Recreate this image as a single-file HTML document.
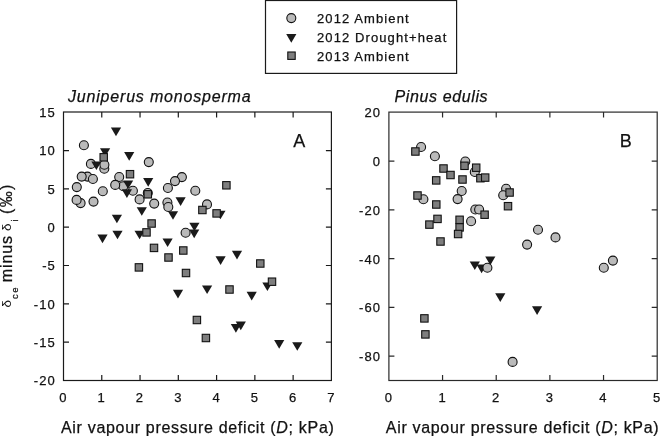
<!DOCTYPE html>
<html><head><meta charset="utf-8"><style>
html,body{margin:0;padding:0;background:#fff;}
body{width:660px;height:436px;overflow:hidden;position:relative;}
svg{position:absolute;left:0;top:0;display:block;will-change:transform;}
text{font-family:"Liberation Sans",sans-serif;stroke:#111;stroke-width:0.25px;}
.t13{font-size:13px;letter-spacing:1.1px;}
.t15{font-size:16px;}
.ti{letter-spacing:0.81px;}
.ti2{letter-spacing:0.62px;}
.xl{letter-spacing:0.68px;}
.yl{letter-spacing:1.3px;}
.sub{font-size:9.5px;}
.t18{font-size:18px;}
</style></head><body>
<svg width="660" height="436" viewBox="0 0 660 436">
<rect x="265.5" y="0.5" width="191.1" height="72.9" fill="none" stroke="#1a1a1a" stroke-width="1.2"/>
<g stroke="#111" stroke-width="1.1"><g fill="#bababa"><circle cx="291.3" cy="18.1" r="4.5"/></g><g fill="#7e7e7e"><rect x="287.80" y="52.00" width="7.4" height="7.4"/></g></g>
<g fill="#1a1a1a"><path d="M286.20 34.10H296.40L291.30 42.70Z"/></g>
<g class="t13" fill="#111"><text x="317" y="23.2">2012 Ambient</text><text x="317" y="41.9">2012 Drought+heat</text><text x="317" y="60.8">2013 Ambient</text></g>
<g fill="none" stroke="#1a1a1a" stroke-width="1.2"><rect x="63.5" y="112.0" width="267.9" height="268.5" fill="none"/><path d="M101.77 380.5v-5.5M101.77 112.0v5.5M140.04 380.5v-5.5M140.04 112.0v5.5M178.31 380.5v-5.5M178.31 112.0v5.5M216.59 380.5v-5.5M216.59 112.0v5.5M254.86 380.5v-5.5M254.86 112.0v5.5M293.13 380.5v-5.5M293.13 112.0v5.5M63.5 150.53h5.5M331.4 150.53h-5.5M63.5 188.86h5.5M331.4 188.86h-5.5M63.5 227.19h5.5M331.4 227.19h-5.5M63.5 265.51h5.5M331.4 265.51h-5.5M63.5 303.84h5.5M331.4 303.84h-5.5M63.5 342.17h5.5M331.4 342.17h-5.5"/></g>
<g fill="none" stroke="#2a2a2a" stroke-width="1.2"><rect x="388.9" y="112.1" width="268.30000000000007" height="268.4" fill="none"/><path d="M442.56 380.5v-5.5M442.56 112.1v5.5M496.22 380.5v-5.5M496.22 112.1v5.5M549.88 380.5v-5.5M549.88 112.1v5.5M603.54 380.5v-5.5M603.54 112.1v5.5M388.9 161.15h5.5M657.2 161.15h-5.5M388.9 209.89h5.5M657.2 209.89h-5.5M388.9 258.64h5.5M657.2 258.64h-5.5M388.9 307.38h5.5M657.2 307.38h-5.5M388.9 356.13h5.5M657.2 356.13h-5.5"/></g>
<g stroke="#111" stroke-width="1.1">
<g fill="#bababa"><circle cx="83.9" cy="145.2" r="4.5"/><circle cx="90.9" cy="163.9" r="4.5"/><circle cx="87.4" cy="176.6" r="4.5"/><circle cx="81.7" cy="176.6" r="4.5"/><circle cx="92.9" cy="179.0" r="4.5"/><circle cx="76.8" cy="187.1" r="4.5"/><circle cx="102.8" cy="191.3" r="4.5"/><circle cx="80.6" cy="203.1" r="4.5"/><circle cx="76.6" cy="199.9" r="4.5"/><circle cx="93.5" cy="201.6" r="4.5"/><circle cx="148.8" cy="162.1" r="4.5"/><circle cx="123.3" cy="186.3" r="4.5"/><circle cx="119.2" cy="177.0" r="4.5"/><circle cx="115.2" cy="184.9" r="4.5"/><circle cx="132.9" cy="190.7" r="4.5"/><circle cx="139.6" cy="199.4" r="4.5"/><circle cx="147.8" cy="193.0" r="4.5"/><circle cx="154.2" cy="203.6" r="4.5"/><circle cx="181.9" cy="177.1" r="4.5"/><circle cx="175.0" cy="181.1" r="4.5"/><circle cx="167.9" cy="188.0" r="4.5"/><circle cx="167.4" cy="202.5" r="4.5"/><circle cx="168.3" cy="207.0" r="4.5"/><circle cx="195.3" cy="190.8" r="4.5"/><circle cx="207.0" cy="204.4" r="4.5"/><circle cx="185.6" cy="232.8" r="4.5"/></g>
</g>
<g fill="#1a1a1a"><path d="M110.90 127.60H121.10L116.00 136.20Z"/><path d="M100.00 148.30H110.20L105.10 156.90Z"/><path d="M124.10 152.10H134.30L129.20 160.70Z"/><path d="M91.30 161.40H101.50L96.40 170.00Z"/><path d="M123.00 180.50H133.20L128.10 189.10Z"/><path d="M121.80 189.30H132.00L126.90 197.90Z"/><path d="M143.10 178.10H153.30L148.20 186.70Z"/><path d="M175.50 197.30H185.70L180.60 205.90Z"/><path d="M167.90 211.20H178.10L173.00 219.80Z"/><path d="M189.30 222.70H199.50L194.40 231.30Z"/><path d="M189.10 229.60H199.30L194.20 238.20Z"/><path d="M162.50 238.40H172.70L167.60 247.00Z"/><path d="M136.70 207.20H146.90L141.80 215.80Z"/><path d="M111.80 214.70H122.00L116.90 223.30Z"/><path d="M112.40 230.70H122.60L117.50 239.30Z"/><path d="M134.50 230.70H144.70L139.60 239.30Z"/><path d="M97.40 234.60H107.60L102.50 243.20Z"/><path d="M215.30 210.70H225.50L220.40 219.30Z"/><path d="M172.90 289.80H183.10L178.00 298.40Z"/><path d="M202.00 285.50H212.20L207.10 294.10Z"/><path d="M215.50 256.30H225.70L220.60 264.90Z"/><path d="M231.90 250.80H242.10L237.00 259.40Z"/><path d="M262.30 282.50H272.50L267.40 291.10Z"/><path d="M246.60 291.80H256.80L251.70 300.40Z"/><path d="M230.80 324.10H241.00L235.90 332.70Z"/><path d="M235.70 321.60H245.90L240.80 330.20Z"/><path d="M274.10 340.10H284.30L279.20 348.70Z"/><path d="M292.20 342.20H302.40L297.30 350.80Z"/></g>
<g stroke="#111" stroke-width="1.1">
<g fill="#bababa"><circle cx="104.3" cy="168.8" r="4.5"/><circle cx="104.4" cy="164.8" r="4.5"/></g>
<g fill="#7e7e7e"><rect x="100.00" y="153.60" width="7.4" height="7.4"/><rect x="126.30" y="170.50" width="7.4" height="7.4"/><rect x="144.10" y="190.60" width="7.4" height="7.4"/><rect x="222.70" y="181.60" width="7.4" height="7.4"/><rect x="198.70" y="206.30" width="7.4" height="7.4"/><rect x="212.90" y="209.70" width="7.4" height="7.4"/><rect x="147.90" y="219.80" width="7.4" height="7.4"/><rect x="142.80" y="228.70" width="7.4" height="7.4"/><rect x="150.30" y="244.20" width="7.4" height="7.4"/><rect x="164.80" y="253.80" width="7.4" height="7.4"/><rect x="179.60" y="246.80" width="7.4" height="7.4"/><rect x="135.20" y="263.70" width="7.4" height="7.4"/><rect x="182.30" y="269.30" width="7.4" height="7.4"/><rect x="256.60" y="259.80" width="7.4" height="7.4"/><rect x="268.30" y="278.00" width="7.4" height="7.4"/><rect x="225.80" y="285.80" width="7.4" height="7.4"/><rect x="193.20" y="316.30" width="7.4" height="7.4"/><rect x="202.20" y="334.30" width="7.4" height="7.4"/></g>
</g>
<g stroke="#111" stroke-width="1.1">
<g fill="#bababa"><circle cx="421.1" cy="147.0" r="4.5"/><circle cx="434.9" cy="156.2" r="4.5"/><circle cx="465.3" cy="161.5" r="4.5"/><circle cx="474.8" cy="172.0" r="4.5"/><circle cx="423.4" cy="199.3" r="4.5"/><circle cx="461.7" cy="191.0" r="4.5"/><circle cx="457.6" cy="199.1" r="4.5"/><circle cx="475.3" cy="209.5" r="4.5"/><circle cx="479.1" cy="209.5" r="4.5"/><circle cx="471.1" cy="221.3" r="4.5"/><circle cx="506.1" cy="188.8" r="4.5"/><circle cx="503.2" cy="195.2" r="4.5"/><circle cx="538.0" cy="229.7" r="4.5"/><circle cx="527.1" cy="244.6" r="4.5"/><circle cx="555.5" cy="237.4" r="4.5"/><circle cx="612.9" cy="260.6" r="4.5"/><circle cx="603.8" cy="267.8" r="4.5"/><circle cx="512.6" cy="361.9" r="4.5"/></g>
</g>
<g fill="#1a1a1a"><path d="M469.70 261.40H479.90L474.80 270.00Z"/><path d="M476.50 264.60H486.70L481.60 273.20Z"/></g>
<g stroke="#111" stroke-width="1.1" fill="#bababa"><circle cx="487.4" cy="267.8" r="4.5"/></g>
<g fill="#1a1a1a"><path d="M485.20 256.60H495.40L490.30 265.20Z"/><path d="M495.20 293.30H505.40L500.30 301.90Z"/><path d="M532.00 306.30H542.20L537.10 314.90Z"/></g>
<g stroke="#111" stroke-width="1.1">
<g fill="#7e7e7e"><rect x="411.70" y="147.80" width="7.4" height="7.4"/><rect x="439.80" y="164.80" width="7.4" height="7.4"/><rect x="446.80" y="171.30" width="7.4" height="7.4"/><rect x="432.50" y="176.70" width="7.4" height="7.4"/><rect x="460.80" y="162.10" width="7.4" height="7.4"/><rect x="458.80" y="175.80" width="7.4" height="7.4"/><rect x="472.50" y="164.00" width="7.4" height="7.4"/><rect x="476.70" y="174.50" width="7.4" height="7.4"/><rect x="481.50" y="173.90" width="7.4" height="7.4"/><rect x="413.80" y="191.80" width="7.4" height="7.4"/><rect x="432.60" y="200.80" width="7.4" height="7.4"/><rect x="433.80" y="215.20" width="7.4" height="7.4"/><rect x="425.70" y="220.90" width="7.4" height="7.4"/><rect x="455.90" y="216.10" width="7.4" height="7.4"/><rect x="455.90" y="223.70" width="7.4" height="7.4"/><rect x="454.40" y="230.30" width="7.4" height="7.4"/><rect x="480.90" y="211.00" width="7.4" height="7.4"/><rect x="505.90" y="188.80" width="7.4" height="7.4"/><rect x="504.30" y="202.50" width="7.4" height="7.4"/><rect x="436.80" y="237.80" width="7.4" height="7.4"/><rect x="420.70" y="314.70" width="7.4" height="7.4"/><rect x="421.70" y="330.70" width="7.4" height="7.4"/></g>
</g>
<g class="t13" fill="#111">
<text x="63.50" y="402" text-anchor="middle">0</text><text x="101.77" y="402" text-anchor="middle">1</text><text x="140.04" y="402" text-anchor="middle">2</text><text x="178.31" y="402" text-anchor="middle">3</text><text x="216.59" y="402" text-anchor="middle">4</text><text x="254.86" y="402" text-anchor="middle">5</text><text x="293.13" y="402" text-anchor="middle">6</text><text x="331.40" y="402" text-anchor="middle">7</text>
<text x="388.90" y="402" text-anchor="middle">0</text><text x="442.56" y="402" text-anchor="middle">1</text><text x="496.22" y="402" text-anchor="middle">2</text><text x="549.88" y="402" text-anchor="middle">3</text><text x="603.54" y="402" text-anchor="middle">4</text><text x="657.20" y="402" text-anchor="middle">5</text>
<text x="55.9" y="117.10" text-anchor="end">15</text><text x="55.9" y="155.43" text-anchor="end">10</text><text x="55.9" y="193.76" text-anchor="end">5</text><text x="55.9" y="232.09" text-anchor="end">0</text><text x="55.9" y="270.41" text-anchor="end">-5</text><text x="55.9" y="308.74" text-anchor="end">-10</text><text x="55.9" y="347.07" text-anchor="end">-15</text><text x="55.9" y="385.40" text-anchor="end">-20</text>
<text x="381.2" y="117.30" text-anchor="end">20</text><text x="381.2" y="166.05" text-anchor="end">0</text><text x="381.2" y="214.79" text-anchor="end">-20</text><text x="381.2" y="263.54" text-anchor="end">-40</text><text x="381.2" y="312.28" text-anchor="end">-60</text><text x="381.2" y="361.03" text-anchor="end">-80</text>
</g>
<g class="t15" fill="#111" font-style="italic"><text x="68" y="102.3" class="ti">Juniperus monosperma</text><text x="394.5" y="102.1" class="ti2">Pinus edulis</text></g>
<g class="t18" fill="#111"><text x="293.2" y="146.9">A</text><text x="619.8" y="146.9">B</text></g>
<g class="t15 xl" fill="#111"><text x="61" y="432.5">Air vapour pressure deficit (<tspan font-style="italic">D</tspan>; kPa)</text><text x="385.8" y="432.5">Air vapour pressure deficit (<tspan font-style="italic">D</tspan>; kPa)</text></g>
<g class="t15 yl" fill="#111" transform="translate(11.8,307.5) rotate(-90)"><text x="0.0" y="-1.0" style="font-size:13.5px;stroke-width:0">&#948;</text><text x="8.6" y="5.8" class="sub">ce</text><text x="25.3" y="0" style="letter-spacing:0.9px">minus</text><text x="76.6" y="-1.0" style="font-size:13.5px;stroke-width:0">&#948;</text><text x="86.0" y="5.8" class="sub">i</text><text x="93.6" y="0">(&#8240;)</text></g>
</svg>
</body></html>
